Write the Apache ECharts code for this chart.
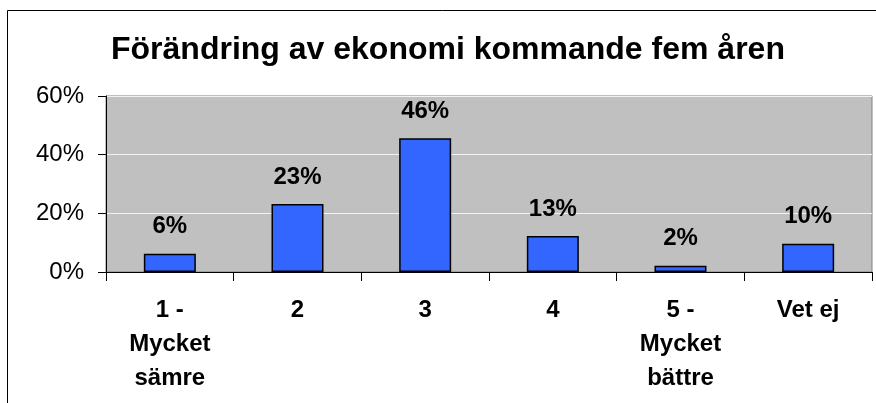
<!DOCTYPE html>
<html>
<head>
<meta charset="utf-8">
<script src="https://cdn.jsdelivr.net/npm/echarts@6/dist/echarts.min.js"></script>
<style>
html,body{margin:0;padding:0;background:#fff;}
#chart{width:876px;height:403px;}
</style>
</head>
<body>
<div id="chart"></div>
<script>
const titleText = "Förändring av ekonomi kommande fem åren";
const categories = ["1 -\nMycket\nsämre", "2", "3", "4", "5 -\nMycket\nbättre", "Vet ej"];
const values = [6.2, 23.2, 45.6, 12.3, 2.1, 9.6];
const valueLabels = ["6%", "23%", "46%", "13%", "2%", "10%"];
const yTicks = [0, 20, 40, 60];

const FONT = "'Liberation Sans', Arial, sans-serif";
const chart = echarts.init(document.getElementById('chart'), null, {renderer: 'canvas'});
chart.setOption({
  animation: false,
  backgroundColor: '#ffffff',
  title: {
    text: titleText,
    left: 111,
    top: 34,
    padding: 0,
    textStyle: {fontFamily: FONT, fontSize: 32, fontWeight: 'bold', color: '#000', lineHeight: 33}
  },
  graphic: [{
    type: 'rect',
    shape: {x: 7.5, y: 10.5, width: 900, height: 500},
    style: {fill: 'none', stroke: '#000', lineWidth: 1},
    silent: true,
    z: -1
  }],
  grid: {
    left: 106, right: 4, top: 96, bottom: 131,
    show: true, backgroundColor: '#C0C0C0', borderColor: '#808080', borderWidth: 1
  },
  xAxis: {
    type: 'category',
    data: categories,
    axisLine: {lineStyle: {color: '#000', width: 1}},
    axisTick: {show: true, length: 9, lineStyle: {color: '#000'}},
    axisLabel: {
      interval: 0, margin: 21, color: '#000', fontFamily: FONT, fontSize: 24,
      fontWeight: 'bold', lineHeight: 34, align: 'center'
    }
  },
  yAxis: {
    type: 'value',
    min: yTicks[0], max: yTicks[yTicks.length - 1], interval: 20,
    axisLine: {show: true, lineStyle: {color: '#000', width: 1}},
    axisTick: {show: true, length: 8, lineStyle: {color: '#000'}},
    axisLabel: {formatter: '{value}%', margin: 22, color: '#000', fontFamily: FONT, fontSize: 24},
    splitLine: {show: true, lineStyle: {color: '#F2F2F2', width: 1}}
  },
  series: [{
    type: 'bar',
    data: values,
    barWidth: 52,
    itemStyle: {color: '#3366FF', borderColor: '#000', borderWidth: 1.5},
    label: {
      show: true, position: 'top', distance: 15,
      formatter: p => valueLabels[p.dataIndex],
      color: '#000', fontFamily: FONT, fontSize: 24, fontWeight: 'bold'
    }
  }]
});
</script>
</body>
</html>
